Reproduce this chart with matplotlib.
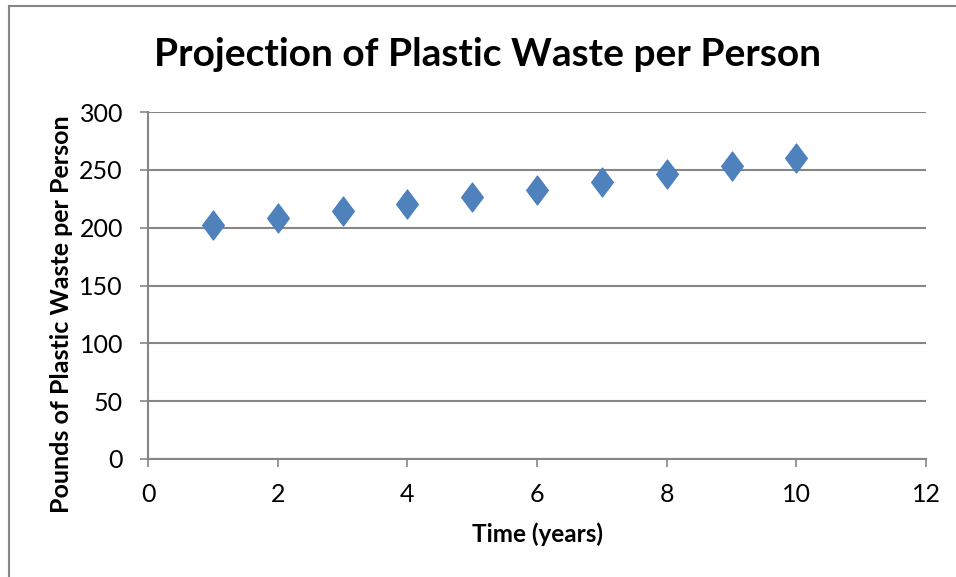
import matplotlib.pyplot as plt
from matplotlib.path import Path
from matplotlib.lines import Line2D

# data
years = [1, 2, 3, 4, 5, 6, 7, 8, 9, 10]
pounds = [202.3, 208.1, 214.2, 220.2, 226.3, 232.7, 239.3, 246.0, 252.9, 259.8]
x_ticks = [0, 2, 4, 6, 8, 10, 12]
y_ticks = [0, 50, 100, 150, 200, 250, 300]

plt.rcParams['font.family'] = ['Lato', 'DejaVu Sans']

grid_col = '#868686'
diamond = Path([(0, 1), (0.75, 0), (0, -1), (-0.75, 0), (0, 1)],
               [Path.MOVETO, Path.LINETO, Path.LINETO, Path.LINETO, Path.CLOSEPOLY])

fig = plt.figure(figsize=(9.56, 5.77), dpi=100)
ax = fig.add_axes([148/956, 1-459/577, (926-148)/956, (459-112)/577])

ax.plot(years, pounds, linestyle='none', marker=diamond, markersize=21,
        markerfacecolor='#4F81BD', markeredgecolor='#4A7EBB', markeredgewidth=0.8,
        zorder=3)

ax.set_xlim(0, 12)
ax.set_ylim(0, 300)
ax.set_xticks(x_ticks)
ax.set_yticks(y_ticks)
ax.grid(axis='y', color=grid_col, linewidth=1.5)
ax.set_axisbelow(True)
for s in ['top', 'right']:
    ax.spines[s].set_visible(False)
for s in ['left', 'bottom']:
    ax.spines[s].set_color(grid_col)
    ax.spines[s].set_linewidth(1.5)
ax.tick_params(length=6, width=1.2, color=grid_col, labelsize=18)
ax.tick_params(axis='y', pad=12)
ax.tick_params(axis='x', pad=11)

fig.text(488/956, 1-55/577, 'Projection of Plastic Waste per Person',
         ha='center', va='center', fontsize=28, fontweight='bold')
fig.text(537/956, 1-534/577, 'Time (years)', ha='center', va='center',
         fontsize=17.5, fontweight='bold')
fig.text(62/956, 1-314/577, 'Pounds of Plastic Waste per Person', ha='center',
         va='center', rotation=90, fontsize=18, fontweight='bold')

# chart frame (only top and left edges are visible)
fig.add_artist(Line2D([8.5/956, 8.5/956], [0, 1-6/577], transform=fig.transFigure,
                      color=grid_col, linewidth=1.5))
fig.add_artist(Line2D([8.5/956, 1], [1-6/577, 1-6/577], transform=fig.transFigure,
                      color=grid_col, linewidth=1.5))

fig.savefig('out.png', dpi=100)
